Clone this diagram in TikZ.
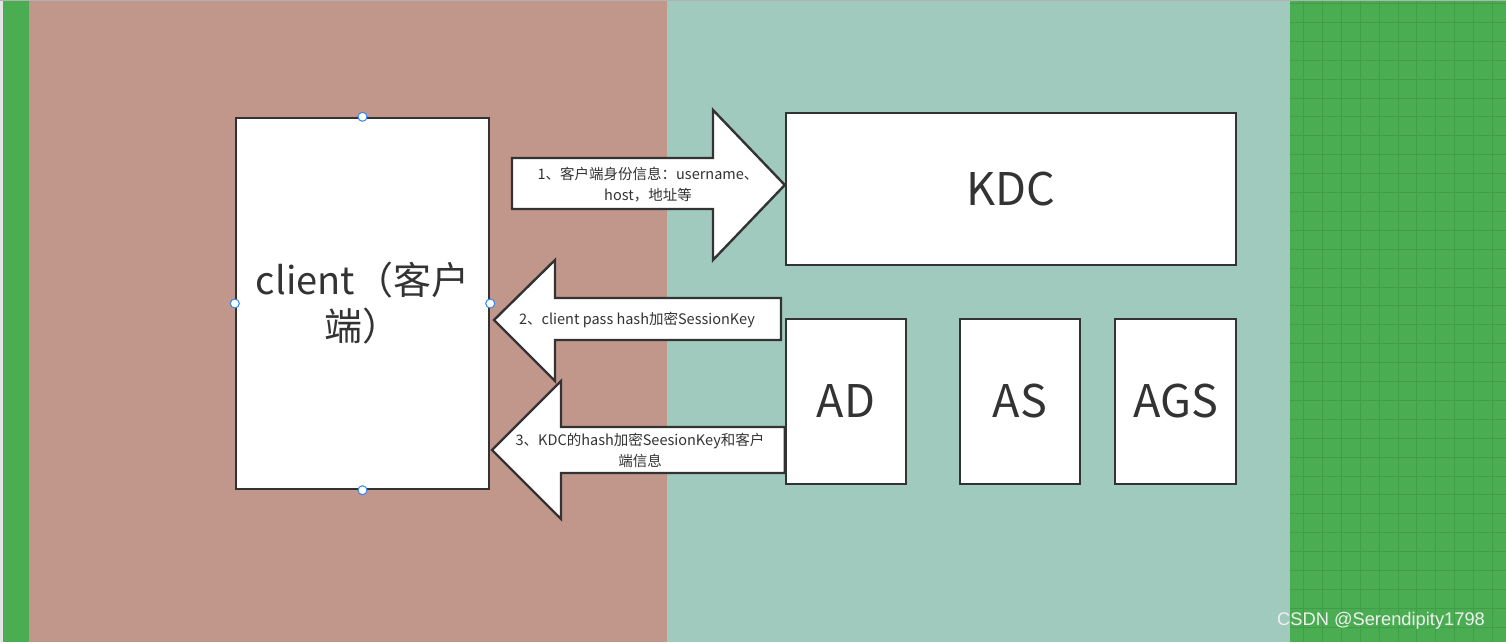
\documentclass[tikz,border=0pt]{standalone}
\usepackage{fontspec}
\setmainfont{Noto Sans CJK SC}
\newfontfamily\markfont{Liberation Sans}
\usetikzlibrary{positioning}

\definecolor{clientbg}{RGB}{194,151,139}
\definecolor{serverbg}{RGB}{160,202,190}
\definecolor{edgegreen}{RGB}{74,173,82}
\definecolor{gridgreen}{RGB}{64,158,72}
\definecolor{ink}{RGB}{51,51,51}
\definecolor{handleblue}{RGB}{45,135,245}

\begin{document}
\begin{tikzpicture}[x=1pt,y=-1pt]
\tikzset{
  box/.style={rectangle,draw=ink,fill=white,line width=2.4pt,inner sep=0pt,text=ink},
  bigarrow/.style={draw=ink,fill=white,line width=2.4pt,line join=miter},
  arrowlabel/.style={text=ink,font=\fontsize{14.5}{21}\selectfont,align=center,inner sep=0pt},
  handle/.style={circle,draw=handleblue,fill=white,line width=1pt,minimum size=9pt,inner sep=0pt},
  gridline/.style={draw=gridgreen,line width=1pt}
}
\useasboundingbox (0,0) rectangle (1506,642);
% background bands
\fill[gray!20] (0,0) rectangle (3,642);
\fill[edgegreen] (3,0) rectangle (29,642);
\fill[clientbg] (29,0) rectangle (667,642);
\fill[serverbg] (667,0) rectangle (1290,642);
\fill[edgegreen] (1290,0) rectangle (1506,642);
\foreach \gx in {0,...,11} \draw[gridline] ({1303.5+18.9*\gx},0) -- ++(0,642);
\foreach \gy in {0,...,33} \draw[gridline] (1290,{3.5+18.9*\gy}) -- ++(216,0);
\draw[gray!60,line width=1.5pt] (0,0.75) -- (1506,0.75);

% boxes
\node[box,minimum width=253pt,minimum height=371pt,align=center,
      font=\fontsize{38}{46}\selectfont] (client) at (362.5,303.5) {client（客户\\端）};
\node[box,minimum width=450pt,minimum height=152pt,font=\fontsize{45}{45}\selectfont] (kdc) at (1011,189) {KDC};
\node[box,minimum width=120pt,minimum height=165pt,font=\fontsize{45}{45}\selectfont] (ad) at (846,401.5) {AD};
\node[box,minimum width=120pt,minimum height=165pt,font=\fontsize{45}{45}\selectfont] (as) at (1020,401.5) {AS};
\node[box,minimum width=121pt,minimum height=165pt,font=\fontsize{45}{45}\selectfont] (ags) at (1175.5,401.5) {AGS};

% selection handles
\node[handle] (h_n) at (client.north) {};
\node[handle] (h_w) at (client.west) {};
\node[handle] (h_e) at (client.east) {};
\node[handle] (h_s) at (client.south) {};

% block arrows
\draw[bigarrow] (512,158) -- (713,158) -- (713,110) -- (kdc.west |- 0,185) -- (713,260) -- (713,209) -- (512,209) -- cycle;
\draw[bigarrow] (494,320) -- (555,260) -- (555,298) -- (781,298) -- (781,340) -- (555,340) -- (555,381) -- cycle;
\draw[bigarrow] (492,450) -- (561,381) -- (561,427) -- (ad.west |- 0,427) -- (ad.west |- 0,473) -- (561,473) -- (561,519) -- cycle;

\node[arrowlabel] (lbl1) at (648,185) {1、客户端身份信息：username、\\host，地址等};
\node[arrowlabel] (lbl2) at (637,320) {2、client pass hash加密SessionKey};
\node[arrowlabel] (lbl3) at (640,450) {3、KDC的hash加密SeesionKey和客户\\端信息};

\node[text=white!88!gray,font=\markfont\fontsize{18.3}{18.3}\selectfont,inner sep=0pt] (mark) at (1381,621) {CSDN @Serendipity1798};
\end{tikzpicture}
\end{document}
